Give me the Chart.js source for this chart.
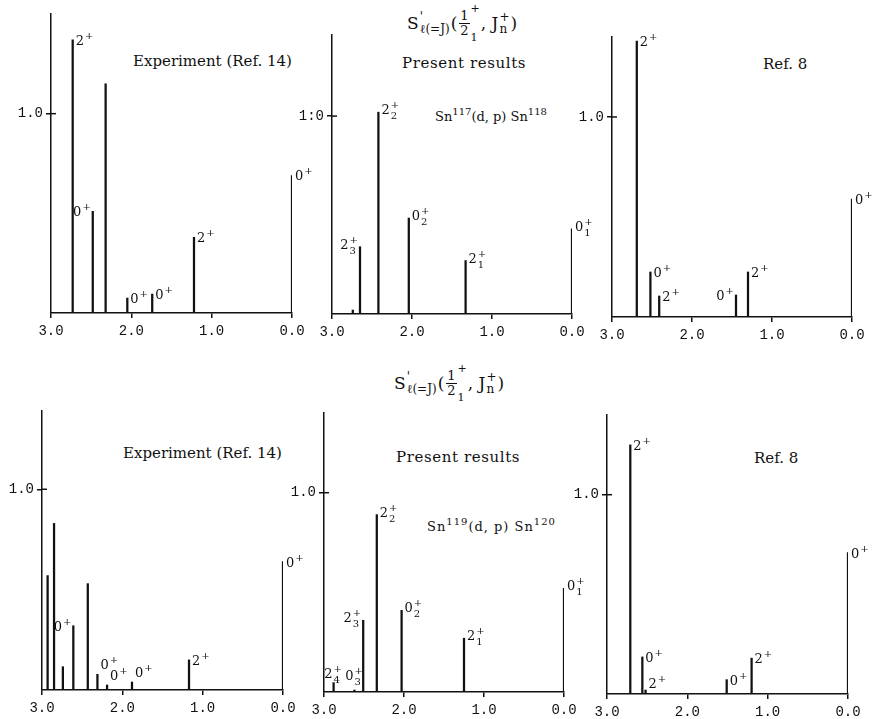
<!DOCTYPE html>
<html>
<head>
<meta charset="utf-8">
<script src="https://cdn.jsdelivr.net/npm/chart.js@4.4.1/dist/chart.umd.min.js"></script>
<style>
  body { margin: 0; background: #fff; overflow: hidden; }
  #wrap { position: relative; width: 872px; height: 719px; }
  canvas { position: absolute; }
  .t { position: absolute; font-family: "DejaVu Serif", serif; font-size: 15px; color: #111; white-space: nowrap; line-height: 1; }
  .t sup { font-size: 10px; vertical-align: 6px; line-height: 0; }
  .sn { font-size: 13px; }
  .f { position: absolute; font-family: "DejaVu Serif", serif; font-size: 17px; color: #111; display: flex; align-items: center; white-space: nowrap; height: 42px; }
  .ss { display: inline-flex; flex-direction: column; font-size: 12px; line-height: 12px; margin: 0 1px; }
  .ssw { height: 40px; justify-content: space-between; font-size: 11px; line-height: 11px; }
  .frac { display: inline-flex; flex-direction: column; align-items: center; font-size: 13px; line-height: 13px; margin-left: 2px; }
  .frac .num { border-bottom: 1px solid #111; padding: 0 1px 1px; }
</style>
</head>
<body>
<div id="wrap">
  <div class="f" style="left:407px; top:2px;">S<span class="ss"><span>'</span><span>&#8467;(=J)</span></span>(<span class="frac"><span class="num">1</span><span>2</span></span><span class="ss ssw"><span>+</span><span>1</span></span>, J<span class="ss"><span>+</span><span>n</span></span>)</div>
  <div class="f" style="left:394px; top:362px;">S<span class="ss"><span>'</span><span>&#8467;(=J)</span></span>(<span class="frac"><span class="num">1</span><span>2</span></span><span class="ss ssw"><span>+</span><span>1</span></span>, J<span class="ss"><span>+</span><span>n</span></span>)</div>

  <div class="t" style="left:133px; top:54px;">Experiment (Ref. 14)</div>
  <div class="t" style="left:402px; top:56px; letter-spacing:0.6px;">Present results</div>
  <div class="t" style="left:763px; top:57px;">Ref. 8</div>
  <div class="t sn" style="left:435px; top:110px;">Sn<sup>117</sup>(d, p) Sn<sup>118</sup></div>

  <div class="t" style="left:123px; top:446px;">Experiment (Ref. 14)</div>
  <div class="t" style="left:396px; top:450px; letter-spacing:0.6px;">Present results</div>
  <div class="t" style="left:754px; top:451px;">Ref. 8</div>
  <div class="t sn" style="left:427px; top:520px; letter-spacing:1px;">Sn<sup>119</sup>(d, p) Sn<sup>120</sup></div>
</div>
<script>
// excitation energy (MeV), strength S', level label
const p1Energy = [2.73, 2.48, 2.32, 2.05, 1.74, 1.22, 0.0];
const p1Strength = [1.37, 0.51, 1.15, 0.075, 0.095, 0.38, 0.69];
const p1Label = ['2^+', '0^+', '', '0^+', '0^+', '2^+', '0^+'];

const p2Energy = [2.74, 2.65, 2.42, 2.04, 1.33, 0.0];
const p2Strength = [0.02, 0.34, 1.02, 0.485, 0.27, 0.43];
const p2Label = ['', '2_3^+', '2_2^+', '0_2^+', '2_1^+', '0_1^+'];

const p3Energy = [2.69, 2.52, 2.41, 1.45, 1.30, 0.0];
const p3Strength = [1.38, 0.225, 0.105, 0.11, 0.225, 0.59];
const p3Label = ['2^+', '0^+', '2^+', '0^+', '2^+', '0^+'];

const p4Energy = [2.93, 2.85, 2.74, 2.61, 2.43, 2.31, 2.19, 1.88, 1.17, 0.0];
const p4Strength = [0.57, 0.83, 0.116, 0.32, 0.53, 0.078, 0.025, 0.04, 0.15, 0.64];
const p4Label = ['', '', '', '0^+', '', '0^+', '0^+', '0^+', '2^+', '0^+'];

const p5Energy = [2.88, 2.62, 2.51, 2.34, 2.03, 1.25, 0.0];
const p5Strength = [0.047, 0.01, 0.36, 0.89, 0.41, 0.27, 0.52];
const p5Label = ['2_4^+', '0_3^+', '2_3^+', '2_2^+', '0_2^+', '2_1^+', '0_1^+'];

const p6Energy = [2.71, 2.56, 2.52, 1.51, 1.20, 0.0];
const p6Strength = [1.25, 0.186, 0.02, 0.072, 0.18, 0.71];
const p6Label = ['2^+', '0^+', '2^+', '0^+', '2^+', '0^+'];

const xTicks = [3, 2, 1, 0];
const yTickText = ['1.0', '1:0', '1.0', '1.0', '1.0', '1.0'];
const axisTop = [1.5, 1.41, 1.4, 1.39, 1.4, 1.4];

// where each panel sits on the page (pixel of E=3, E=0, S=0, S=1)
const layouts = [
  { L: 51, R: 292, B: 312, y1: 113 },
  { L: 332, R: 572, B: 314, y1: 116 },
  { L: 612, R: 852, B: 317, y1: 117 },
  { L: 42, R: 283, B: 690, y1: 489 },
  { L: 324, R: 564, B: 692, y1: 493 },
  { L: 607, R: 848, B: 694, y1: 495 }
];
// label left of stick ('l'), right ('r') or straddling it ('c'); 'u' = sit above the top
const sides = [
  ['r', 'l', 'r', 'r', 'r', 'r', 'r'],
  ['r', 'l', 'r', 'r', 'r', 'r'],
  ['r', 'r', 'r', 'l', 'r', 'r'],
  ['r', 'r', 'r', 'l', 'r', 'ru', 'ru', 'ru', 'r', 'r'],
  ['cu', 'c', 'l', 'r', 'r', 'r', 'r'],
  ['r', 'r', 'r', 'r', 'r', 'r']
];

const ink = '#111';
const serif = '"DejaVu Serif", serif';

const stickLabels = {
  id: 'stickLabels',
  afterDatasetsDraw(chart, args, opts) {
    const ctx = chart.ctx;
    const meta = chart.getDatasetMeta(0);
    const area = chart.chartArea;
    ctx.save();
    ctx.fillStyle = ink;
    ctx.strokeStyle = ink;
    // inner half of the 1.0 cross mark
    const y1 = chart.scales.y.getPixelForValue(1);
    ctx.lineWidth = 1.5;
    ctx.beginPath();
    ctx.moveTo(area.left, y1);
    ctx.lineTo(area.left + 5, y1);
    ctx.stroke();

    ctx.textBaseline = 'alphabetic';
    meta.data.forEach((bar, i) => {
      const lab = opts.labels[i];
      if (!lab) return;
      const m = lab.match(/^(\d)(?:_(\w))?\^(\+)$/);
      const base = m[1], sub = m[2] || '', sup = m[3];
      ctx.font = '13px ' + serif;
      const wb = ctx.measureText(base).width;
      ctx.font = '10px ' + serif;
      const ws = Math.max(ctx.measureText(sub).width, ctx.measureText(sup).width);
      const total = wb + ws + 1;
      const side = opts.sides[i];
      let x0 = bar.x + 3;
      if (side[0] === 'l') x0 = bar.x - total - 2;
      if (side[0] === 'c') x0 = bar.x - wb - 1;
      let yb = bar.y + (sub ? 2 : 5);
      if (side[1] === 'u') yb = bar.y - (sub ? 5 : 5);
      yb = Math.min(yb, area.bottom - (sub ? 12 : 6));
      ctx.font = '13px ' + serif;
      ctx.fillText(base, x0, yb);
      ctx.font = '10px ' + serif;
      ctx.fillText(sup, x0 + wb + 1, yb - 6);
      if (sub) ctx.fillText(sub, x0 + wb + 1, yb + 5);
    });
    ctx.restore();
  }
};

function makePanel(k, energy, strength, labels) {
  const g = layouts[k];
  const plotH = axisTop[k] * (g.B - g.y1);
  const padTop = 16, padRight = 24, yW = 40, xH = 32;
  const c = document.createElement('canvas');
  c.width = g.R - g.L + yW + padRight;
  c.height = Math.round(plotH + padTop + xH);
  c.style.left = (g.L - yW) + 'px';
  c.style.top = Math.round(g.B - plotH - padTop) + 'px';
  document.getElementById('wrap').appendChild(c);

  new Chart(c.getContext('2d'), {
    type: 'bar',
    data: {
      datasets: [{
        data: energy.map((e, i) => ({ x: e, y: strength[i] })),
        backgroundColor: ink,
        barThickness: 1.6
      }]
    },
    options: {
      responsive: false,
      animation: false,
      layout: { padding: { top: padTop, right: padRight, left: 0, bottom: 0 } },
      plugins: {
        legend: { display: false },
        tooltip: { enabled: false },
        stickLabels: { labels: labels, sides: sides[k] }
      },
      scales: {
        x: {
          type: 'linear',
          reverse: true,
          min: 0,
          max: 3,
          offset: false,
          afterFit: s => { s.height = xH; },
          afterBuildTicks: s => { s.ticks = xTicks.map(v => ({ value: v })); },
          ticks: {
            color: ink,
            padding: 5,
            font: { family: '"Liberation Mono", monospace', size: 14 },
            callback: v => Number(v).toFixed(1)
          },
          grid: { offset: false, drawOnChartArea: false, drawTicks: true, tickLength: 5, color: ink, lineWidth: 1.5 },
          border: { display: true, color: ink, width: 1.5 }
        },
        y: {
          min: 0,
          max: axisTop[k],
          afterFit: s => { s.width = yW; },
          afterBuildTicks: s => { s.ticks = [{ value: 1 }]; },
          ticks: {
            color: ink,
            padding: 3,
            font: { family: '"Liberation Mono", monospace', size: 14 },
            callback: () => yTickText[k]
          },
          grid: { drawOnChartArea: false, drawTicks: true, tickLength: 5, color: ink, lineWidth: 1.5 },
          border: { display: true, color: ink, width: 1.5 }
        }
      }
    },
    plugins: [stickLabels]
  });
}

makePanel(0, p1Energy, p1Strength, p1Label);
makePanel(1, p2Energy, p2Strength, p2Label);
makePanel(2, p3Energy, p3Strength, p3Label);
makePanel(3, p4Energy, p4Strength, p4Label);
makePanel(4, p5Energy, p5Strength, p5Label);
makePanel(5, p6Energy, p6Strength, p6Label);
</script>
</body>
</html>
